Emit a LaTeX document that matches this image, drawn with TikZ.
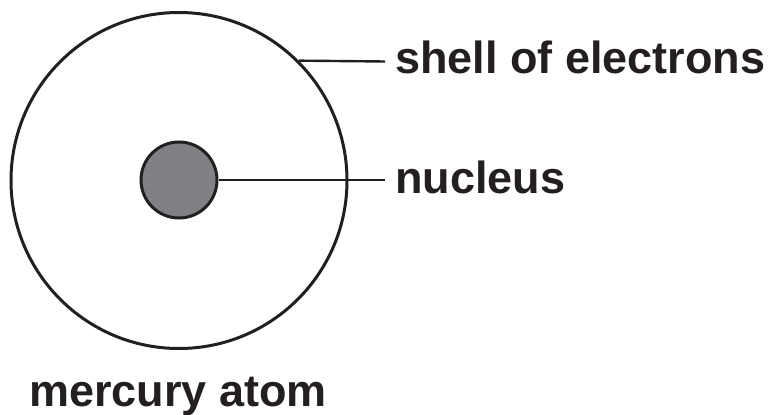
\documentclass[tikz,border=0pt]{standalone}
\usepackage{fontspec}
\setmainfont{Liberation Sans}
\definecolor{nucgray}{RGB}{128,129,132}
\definecolor{ink}{RGB}{35,31,32}
\begin{document}
\begin{tikzpicture}[x=1pt,y=-1pt,
  lbl/.style={inner sep=0pt,font=\fontsize{45}{54}\selectfont\bfseries,text=ink},
  connector/.style={draw=ink,line width=2.4pt}]
\useasboundingbox (0,0) rectangle (772,415);
\node[circle,draw=ink,line width=3pt,minimum size=336pt,inner sep=0pt] (shell) at (179,180.5) {};
\node[circle,draw=ink,fill=nucgray,line width=3pt,minimum size=76pt,inner sep=0pt] (nuc) at (179,180) {};
\node[lbl,anchor=base west] (slabel) at (395,73) {shell of electrons};
\node[lbl,anchor=base west] (nlabel) at (395,193) {nucleus};
\node[lbl,anchor=base] (alabel) at (178,406) {mercury atom};
\coordinate (se) at (385,61.5);
\coordinate (ne) at (385,180);
\draw[connector] (shell.45) -- (se);
\draw[connector] (nuc.east) -- (ne);
\end{tikzpicture}
\end{document}
